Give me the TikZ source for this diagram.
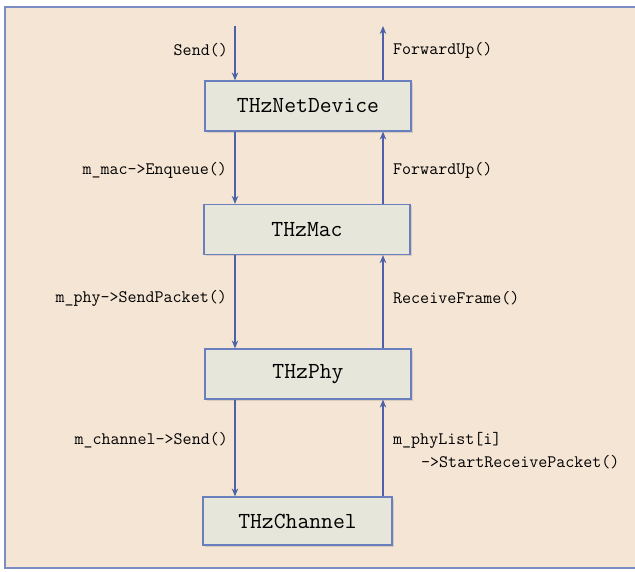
\documentclass[tikz,border=0pt]{standalone}
\usepackage{fontspec}
\usetikzlibrary{shadows, arrows.meta}

\definecolor{panelbg}{HTML}{F5E5D4}
\definecolor{panelline}{HTML}{7B8CC4}
\definecolor{boxfill}{HTML}{E6E6DA}
\definecolor{boxline}{HTML}{6A80BE}
\definecolor{linkblue}{HTML}{4D61A9}

\begin{document}
\begin{tikzpicture}[
    x=1pt, y=-1pt,
    layer/.style={rectangle, draw=boxline, line width=1.2pt, fill=boxfill,
        minimum width=206pt, minimum height=50pt, inner sep=0pt,
        font=\fontsize{23}{27}\selectfont\ttfamily,
        drop shadow={opacity=0.25, shadow xshift=1.5pt, shadow yshift=-1.5pt}},
    call/.style={inner sep=0pt, font=\fontsize{17.5}{23}\selectfont\ttfamily},
    arrow/.style={-{Stealth[length=8pt, width=6.5pt]}, draw=linkblue, fill=linkblue, line width=1.3pt}
]

\useasboundingbox (0,0) rectangle (635,571);

% Background panel, open on the right
\fill[panelbg] (5,7) rectangle (635,568);
\draw[panelline, line width=1.4pt] (635,7) -- (5,7) -- (5,568) -- (635,568);

% Layers of the stack
\node[layer] (netdev) at (308,106) {THzNetDevice};
\node[layer] (mac) at (307,229.5) {THzMac};
\node[layer] (phy) at (308,374) {THzPhy};
\node[layer, minimum width=189pt, minimum height=48pt] (channel) at (297.5,521) {THzChannel};

% Columns for the down and up paths
\coordinate (down) at (235,0);
\coordinate (up) at (383,0);
\coordinate (appin) at (235,26);
\coordinate (appout) at (383,26);

% Transmit path
\draw[arrow] (appin) -- (appin |- netdev.north);
\draw[arrow] (netdev.south -| down) -- (mac.north -| down);
\draw[arrow] (mac.south -| down) -- (phy.north -| down);
\draw[arrow] (phy.south -| down) -- (channel.north -| down);

% Receive path
\draw[arrow] (channel.north -| up) -- (phy.south -| up);
\draw[arrow] (phy.north -| up) -- (mac.south -| up);
\draw[arrow] (mac.north -| up) -- (netdev.south -| up);
\draw[arrow] (netdev.north -| up) -- (appout);

% Call labels
\node[call, anchor=east] (send) at (228,50) {Send()};
\node[call, anchor=east] (enqueue) at (227,170) {m\_mac->Enqueue()};
\node[call, anchor=east] (sendpkt) at (227,298) {m\_phy->SendPacket()};
\node[call, anchor=east] (chsend) at (228,440) {m\_channel->Send()};

\node[call, anchor=west] (fwdtop) at (393,50) {ForwardUp()};
\node[call, anchor=west] (fwdmac) at (393,170) {ForwardUp()};
\node[call, anchor=west] (recvframe) at (393,298) {ReceiveFrame()};
\node[call, anchor=north west, align=left] (startrx) at (393,432)
    {m\_phyList[i]\\\hspace*{28pt}->StartReceivePacket()};

\end{tikzpicture}
\end{document}
